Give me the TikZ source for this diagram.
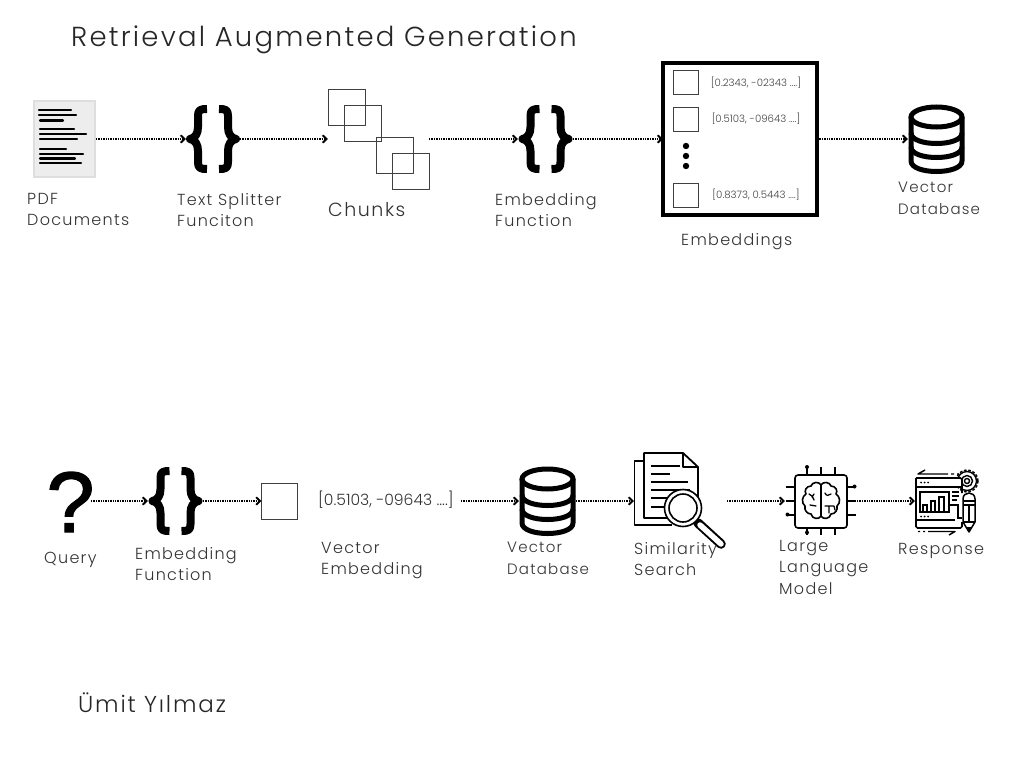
\documentclass[tikz,border=0pt]{standalone}
\usepackage{fontspec}
\usetikzlibrary{arrows.meta}
\setmainfont{Poppins Light}[LetterSpace=8]
\newfontfamily\vecfont{Poppins Light}
\newfontfamily\qfont{Liberation Sans}[FakeBold=1.6]
\tikzset{
  x=1pt,y=-1pt,
  flow/.style={densely dotted,line width=1.4pt,-{Straight Barb[length=4pt,width=7.5pt,line width=1.9pt]},shorten >=0pt},
  holder/.style={inner sep=0pt,outer sep=0pt,minimum width=#1},
  lbl/.style={anchor=north west,align=left,inner sep=0pt,font=\fontsize{16}{21.5}\selectfont,text=black!80},
  dblbl/.style={lbl,font=\fontsize{15}{21.5}\selectfont},
  thinbox/.style={draw=black!75,line width=0.8pt,fill=white},
  vec/.style={inner sep=0pt,text=black!75,font=\vecfont\fontsize{10.2}{11}\selectfont},
  bracepic/.pic={
    \draw[line width=8pt,line join=round] (-6,-30) .. controls (-13,-30) and (-15,-29) .. (-15,-23) -- (-15,-12) .. controls (-15,-5) and (-18,-1) .. (-23,0) .. controls (-18,1) and (-15,5) .. (-15,12) -- (-15,23) .. controls (-15,29) and (-13,30) .. (-6,30);
    \draw[line width=8pt,line join=round] (6,-30) .. controls (13,-30) and (15,-29) .. (15,-23) -- (15,-12) .. controls (15,-5) and (18,-1) .. (23,0) .. controls (18,1) and (15,5) .. (15,12) -- (15,23) .. controls (15,29) and (13,30) .. (6,30);
  },
  dbpic/.pic={
    \draw[line width=5pt,fill=white] (0,-22) ellipse [x radius=25.5,y radius=10];
    \draw[line width=5pt,line join=round] (-25.5,-22) -- (-25.5,22) .. controls (-25.5,36) and (25.5,36) .. (25.5,22) -- (25.5,-22);
    \draw[line width=5pt] (-25.5,-6) .. controls (-25.5,8) and (25.5,8) .. (25.5,-6);
    \draw[line width=5pt] (-25.5,8) .. controls (-25.5,22) and (25.5,22) .. (25.5,8);
  },
}
\begin{document}
\begin{tikzpicture}
\useasboundingbox (0,0) rectangle (1024,768);
% title
\node[anchor=west,inner sep=0pt,text=black!85,font=\fontsize{27.5}{30}\selectfont] (title) at (71,40) {Retrieval Augmented Generation};
\node[anchor=west,inner sep=0pt,text=black!85,font=\fontsize{23}{26}\selectfont] (author) at (78,703) {Ümit Yılmaz};

% ---- row 1 ----
\node[holder=61pt,minimum height=76pt,fill=black!7,draw=black!13,line width=2.5pt] (pdf) at (64.5,139) {};
\foreach \ya/\xa/\xb in {110/39/71,115/39/76,120.5/40/63,129/40/74,134/40/86,139/40/77,149/40/66,154/40/83,158.5/40/75,163/40/81}
  \draw[line width=2.2pt,line cap=round] (\xa,\ya) -- (\xb,\ya);
\node[holder=54pt,minimum height=68pt] (split) at (213,139) {};
\pic at (213,139) {bracepic};
\node[holder=101pt,minimum height=100pt] (chunks) at (378.5,139) {};
\draw[thinbox] (328,89) rectangle (365,125);
\draw[thinbox,fill=none] (344,105) rectangle (381,141);
\draw[thinbox,fill=none] (376,137) rectangle (413,173);
\draw[thinbox,fill=none] (392,153) rectangle (429,189);
\node[holder=55pt,minimum height=68pt] (embf) at (545.5,139) {};
\pic at (545.5,139) {bracepic};
\node[holder=154pt,minimum height=152pt,draw,line width=4.5pt,inner sep=0pt] (emb) at (740,139) {};
\foreach \ya in {70,107,183} \draw[thinbox] (673,\ya) rectangle (698,\ya+24.5);
\foreach \ya in {146,156,166} \fill (686,\ya) circle (3.2);
\node[vec] (v1) at (756,83) {[0.2343, -02343 ....]};
\node[vec] (v2) at (756,119) {[0.5103, -09643 ....]};
\node[vec] (v3) at (756,195) {[0.8373, 0.5443 ....]};
\node[holder=57pt,minimum height=68pt] (db) at (936.5,139) {};
\pic at (936.5,139) {dbpic};

\draw[flow] (pdf.east) ++(1,0) -- (split.west);
\draw[flow] (split.east) -- (chunks.west);
\draw[flow] (chunks.east) -- (embf.west);
\draw[flow] (embf.east) -- (emb.west);
\draw[flow] (emb.east) -- (db.west);

\node[lbl] (l1) at (27,193) {PDF\\Documents};
\node[lbl] (l2) at (177,193) {Text Splitter\\Funciton};
\node[lbl,font=\fontsize{19}{22}\selectfont] (l3) at (328,202) {Chunks};
\node[lbl] (l4) at (495,193) {Embedding\\Function};
\node[lbl] (l5) at (681,233) {Embeddings};
\node[dblbl] (l6) at (898,182) {Vector\\Database};

% ---- row 2 ----
\node[holder=41pt,minimum height=66pt] (q) at (70.5,501) {};
\node[inner sep=0pt,font=\qfont\fontsize{86}{86}\selectfont] (qm) at (70.5,502) {?};
\node[holder=55pt,minimum height=68pt] (embg) at (175.5,501) {};
\pic at (175.5,501) {bracepic};
\node[holder=36pt,minimum height=36pt,thinbox,inner sep=0pt] (sq) at (279.5,501) {};
\node[inner sep=0pt,anchor=west,text=black!80,font=\vecfont\fontsize{15.6}{17}\selectfont] (vt) at (318,500) {[0.5103, -09643 ....]};
\coordinate (vtout) at (461,501);
\node[holder=57pt,minimum height=68pt] (db2) at (547.5,501) {};
\pic at (547.5,501) {dbpic};
% similarity search
\coordinate (sim) at (634,501);
\coordinate (simr) at (727,501);
\draw[line width=1.8pt,line join=round] (644,461) -- (634.5,461) -- (634.5,525) -- (672,525);
\draw[line width=1.8pt,line join=round,fill=white] (644,453) -- (683,453) -- (698,467) -- (698,518) -- (644,518) -- cycle;
\draw[line width=1.8pt,line join=round] (683,453) -- (683,467) -- (698,467);
\foreach \ya/\xb in {466/680,474/670,482/688,490/690,498/672,507/665}
  \draw[line width=1.4pt] (651,\ya) -- (\xb,\ya);
\draw[line width=9.5pt,line cap=round] (698,523) -- (721,544);
\draw[line width=5.5pt,line cap=round,white] (700,525) -- (721,544);
\draw[line width=1.6pt,fill=white] (683,508) circle (18.5);
\draw[line width=1.6pt,fill=white] (683,508) circle (14);
% LLM
\node[holder=72pt,minimum height=70pt] (llm) at (821,501) {};
\draw[line width=1.6pt,rounded corners=3pt] (795,475) rectangle (847,528);
\foreach \xa in {807,821,835} {\draw[line width=1.3pt] (\xa,467) -- (\xa,475); \draw[line width=1.3pt] (\xa,528) -- (\xa,535);}
\foreach \ya in {487,501,515} {\draw[line width=1.3pt] (786,\ya) -- (795,\ya); \draw[line width=1.3pt] (847,\ya) -- (856,\ya);}
\foreach \xa/\ya in {807/467,854.5/486.5,787.5/514.5,807/532.5} \fill (\xa,\ya) circle (2);
\draw[line width=1.6pt,line join=round,line cap=round]
  (821,485) .. controls (819,481) and (812,482) .. (811,486) .. controls (806,486) and (804,491) .. (806,494)
  .. controls (802,496) and (801,503) .. (805,506) .. controls (804,510) and (807,514) .. (811,514)
  .. controls (812,519) and (819,520) .. (821,516) -- cycle;
\draw[line width=1.6pt,line join=round,line cap=round]
  (821,485) .. controls (823,481) and (830,482) .. (831,486) .. controls (836,486) and (838,491) .. (836,494)
  .. controls (840,496) and (841,503) .. (837,506) .. controls (838,510) and (835,514) .. (831,514)
  .. controls (830,519) and (823,520) .. (821,516);
\draw[line width=1.3pt,line cap=round] (809,494) .. controls (812,495) and (813,497) .. (814,500) (814,494) -- (812,497) (816,506) -- (810,505) (825,493) .. controls (826,496) and (829,496) .. (831,494) (825,506) -- (834,506) (829,506) -- (829,513) (834,506) -- (835,510);
% Response
\coordinate (resp) at (915,501);
\begin{scope}
\clip (955,468) rectangle (982,492);
\draw[line width=1.5pt,dash pattern=on 2.6pt off 1.8pt] (967,481) circle (11);
\draw[line width=1.4pt] (967,481) circle (9.5);
\draw[line width=1.4pt] (967,481) circle (5.5);
\draw[line width=1.4pt] (967,481) circle (2.5);
\end{scope}
\fill[white] (916,478) rectangle (962,487);
\draw[line width=1.7pt,rounded corners=1.5pt] (916,478) -- (962,478) -- (962,493) (916,478) -- (916,528) -- (962,528) -- (962,522);
\draw[line width=1.5pt] (916,487) -- (962,487) (916,520) -- (955,520);
\foreach \xa in {921,924.5,928} {\fill (\xa,482.5) circle (1); \fill (\xa,516.5) circle (1);}
\draw[line width=1.6pt] (920,492) rectangle (949,512);
\draw[line width=1.5pt] (923,512) -- (923,505) -- (927,505) -- (927,512) (931,512) -- (931,501) -- (935,501) -- (935,512) (939,512) -- (939,497) -- (944,497) -- (944,512);
\draw[line width=1.3pt] (952,492) -- (959,492) (952,496) -- (959,496) (952,500) -- (957,500);
\draw[line width=1.3pt] (949,505) -- (958,505) -- (958,518) -- (962,518);
\draw[line width=1.5pt,line join=round,fill=white] (963,499) .. controls (963,491) and (975,491) .. (975,499) -- (975,522) -- (969,532) -- (963,522) -- cycle;
\draw[line width=1.3pt] (963,501) -- (975,501) (963,505) -- (975,505) (963,522) -- (975,522);
\draw[line width=1.2pt] (969,505) -- (969,522);
\fill (969,531.5) -- (966.5,527) -- (971.5,527) -- cycle;
\draw[line width=1.4pt,line join=round] (925,470) -- (918,474) -- (948,474) (951,474) -- (954,474) (957,474) -- (959,474);
\draw[line width=1.4pt,line join=round] (918,531.5) -- (920,531.5) (923,531.5) -- (925,531.5) (928,531.5) -- (955,531.5) -- (949,535);
\draw[flow] (q.east) -- (embg.west);
\draw[flow] (embg.east) -- (sq.west);
\draw[flow] (vtout) -- (db2.west);
\draw[flow] (db2.east) -- (sim);
\draw[flow] (simr) -- (llm.west);
\draw[flow] (llm.east) -- (resp);

\node[lbl] (m1) at (44,552) {Query};
\node[lbl] (m2) at (135,547) {Embedding\\Function};
\node[lbl] (m3) at (321,542) {Vector\\Embedding};
\node[dblbl] (m4) at (507,542) {Vector\\Database};
\node[lbl] (m5) at (634,542) {Similarity\\Search};
\node[lbl] (m6) at (779,540) {Large\\Language\\Model};
\node[lbl] (m7) at (898,543) {Response};
\end{tikzpicture}
\end{document}
